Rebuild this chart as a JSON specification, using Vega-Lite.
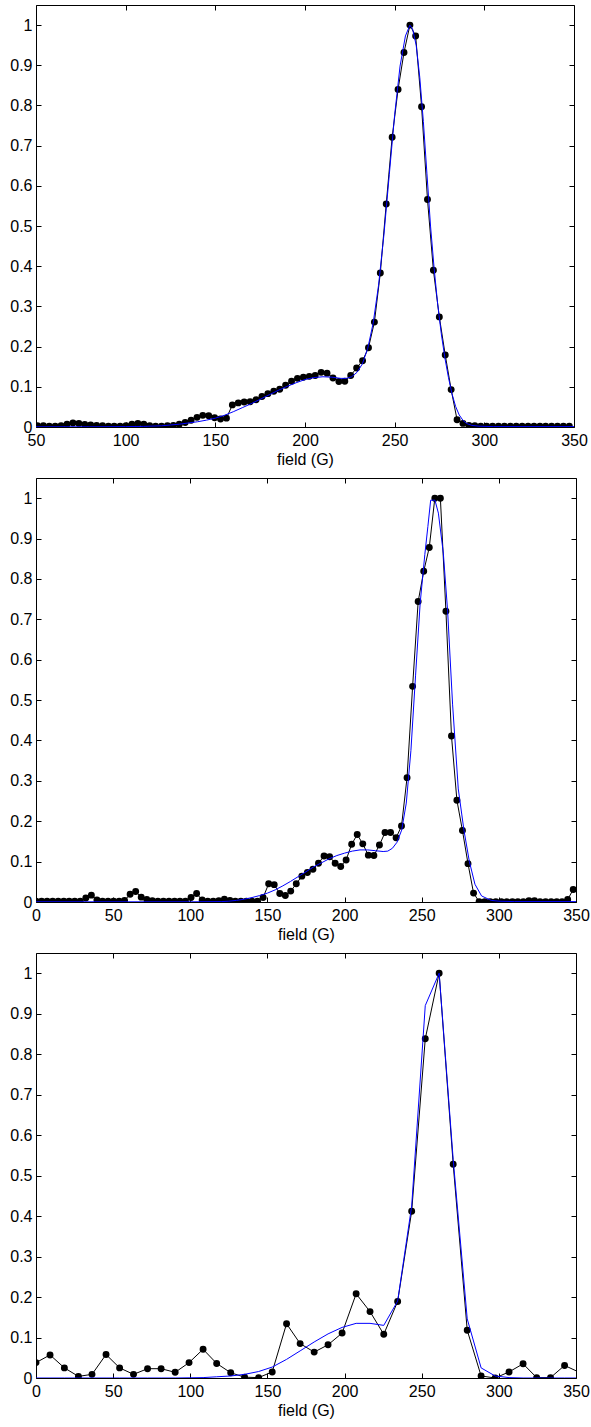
{
  "$schema": "https://vega.github.io/schema/vega-lite/v6.json",
  "background": "white",
  "padding": {"top": 4, "left": 9, "right": 4, "bottom": 3},
  "spacing": 9,
  "config": {
    "font": "Liberation Sans",
    "view": {"stroke": "black", "strokeWidth": 1},
    "axis": {
      "domain": false,
      "grid": false,
      "ticks": true,
      "tickColor": "black",
      "tickSize": -5,
      "tickWidth": 1,
      "minExtent": 0,
      "labelFont": "Liberation Sans",
      "labelFontSize": 16,
      "labelColor": "black",
      "labelFlush": false,
      "labelOverlap": false,
      "titleFont": "Liberation Sans",
      "titleFontSize": 16,
      "titleFontWeight": "normal",
      "titleColor": "black"
    },
    "axisX": {"labelPadding": 10, "titlePadding": 3},
    "axisY": {"labelPadding": 9}
  },
  "datasets": {
    "p1": [
      {"B": 50.8, "norm": 0.003}, {"B": 54.1, "norm": 0.003}, {"B": 57.4, "norm": 0.002}, {"B": 60.7, "norm": 0.002},
      {"B": 64.0, "norm": 0.003}, {"B": 67.3, "norm": 0.007}, {"B": 70.6, "norm": 0.010}, {"B": 73.9, "norm": 0.009},
      {"B": 77.2, "norm": 0.006}, {"B": 80.5, "norm": 0.005}, {"B": 83.8, "norm": 0.004}, {"B": 87.1, "norm": 0.003},
      {"B": 90.4, "norm": 0.002}, {"B": 93.6, "norm": 0.002}, {"B": 96.9, "norm": 0.002}, {"B": 100.2, "norm": 0.003},
      {"B": 103.5, "norm": 0.007}, {"B": 106.8, "norm": 0.009}, {"B": 110.1, "norm": 0.007}, {"B": 113.4, "norm": 0.003},
      {"B": 116.7, "norm": 0.002}, {"B": 120.0, "norm": 0.002}, {"B": 123.3, "norm": 0.003}, {"B": 126.6, "norm": 0.004},
      {"B": 129.9, "norm": 0.007}, {"B": 133.2, "norm": 0.011}, {"B": 136.5, "norm": 0.017}, {"B": 139.8, "norm": 0.024},
      {"B": 143.0, "norm": 0.029}, {"B": 146.3, "norm": 0.028}, {"B": 149.6, "norm": 0.023}, {"B": 152.9, "norm": 0.020},
      {"B": 156.2, "norm": 0.022}, {"B": 159.5, "norm": 0.055}, {"B": 162.8, "norm": 0.060}, {"B": 166.1, "norm": 0.062},
      {"B": 169.4, "norm": 0.063}, {"B": 172.7, "norm": 0.068}, {"B": 176.0, "norm": 0.076}, {"B": 179.3, "norm": 0.083},
      {"B": 182.6, "norm": 0.089}, {"B": 185.9, "norm": 0.094}, {"B": 189.2, "norm": 0.104}, {"B": 192.5, "norm": 0.114},
      {"B": 195.8, "norm": 0.121}, {"B": 199.1, "norm": 0.124}, {"B": 202.4, "norm": 0.126}, {"B": 205.7, "norm": 0.128},
      {"B": 209.0, "norm": 0.136}, {"B": 212.3, "norm": 0.134}, {"B": 215.6, "norm": 0.122}, {"B": 218.9, "norm": 0.113},
      {"B": 222.2, "norm": 0.114}, {"B": 225.5, "norm": 0.128}, {"B": 228.8, "norm": 0.147}, {"B": 232.1, "norm": 0.165},
      {"B": 235.4, "norm": 0.197}, {"B": 238.7, "norm": 0.261}, {"B": 242.0, "norm": 0.383}, {"B": 245.3, "norm": 0.555},
      {"B": 248.6, "norm": 0.721}, {"B": 251.9, "norm": 0.840}, {"B": 255.2, "norm": 0.932}, {"B": 258.5, "norm": 1.0},
      {"B": 261.7, "norm": 0.973}, {"B": 265.0, "norm": 0.797}, {"B": 268.3, "norm": 0.566}, {"B": 271.6, "norm": 0.390},
      {"B": 274.9, "norm": 0.274}, {"B": 278.2, "norm": 0.179}, {"B": 281.5, "norm": 0.093}, {"B": 284.8, "norm": 0.018},
      {"B": 288.1, "norm": 0.009}, {"B": 291.4, "norm": 0.004}, {"B": 294.7, "norm": 0.003}, {"B": 298.0, "norm": 0.002},
      {"B": 301.3, "norm": 0.002}, {"B": 304.6, "norm": 0.002}, {"B": 307.9, "norm": 0.002}, {"B": 311.2, "norm": 0.002},
      {"B": 314.5, "norm": 0.002}, {"B": 317.8, "norm": 0.002}, {"B": 321.1, "norm": 0.002}, {"B": 324.4, "norm": 0.002},
      {"B": 327.7, "norm": 0.002}, {"B": 331.0, "norm": 0.002}, {"B": 334.2, "norm": 0.002}, {"B": 337.5, "norm": 0.002},
      {"B": 340.8, "norm": 0.002}, {"B": 344.1, "norm": 0.002}, {"B": 347.4, "norm": 0.002}
    ],
    "p1fit": [
      {"B": 50, "norm": 0.0005}, {"B": 80, "norm": 0.0005}, {"B": 100, "norm": 0.001}, {"B": 110, "norm": 0.0015},
      {"B": 120, "norm": 0.003}, {"B": 125, "norm": 0.005}, {"B": 130, "norm": 0.007}, {"B": 135, "norm": 0.010},
      {"B": 140, "norm": 0.013}, {"B": 145, "norm": 0.017}, {"B": 150, "norm": 0.022}, {"B": 155, "norm": 0.029},
      {"B": 160, "norm": 0.038}, {"B": 165, "norm": 0.048}, {"B": 170, "norm": 0.058}, {"B": 175, "norm": 0.069},
      {"B": 180, "norm": 0.080}, {"B": 185, "norm": 0.091}, {"B": 190, "norm": 0.101}, {"B": 195, "norm": 0.110},
      {"B": 200, "norm": 0.118}, {"B": 205, "norm": 0.123}, {"B": 210, "norm": 0.125}, {"B": 215, "norm": 0.124},
      {"B": 220, "norm": 0.121}, {"B": 223, "norm": 0.121}, {"B": 226, "norm": 0.125}, {"B": 229, "norm": 0.136},
      {"B": 232, "norm": 0.157}, {"B": 235, "norm": 0.196}, {"B": 238, "norm": 0.258}, {"B": 241, "norm": 0.352},
      {"B": 244, "norm": 0.478}, {"B": 247, "norm": 0.628}, {"B": 250, "norm": 0.777}, {"B": 253, "norm": 0.898},
      {"B": 256, "norm": 0.973}, {"B": 258.5, "norm": 1.0}, {"B": 260, "norm": 0.99}, {"B": 262, "norm": 0.95},
      {"B": 264, "norm": 0.87}, {"B": 266, "norm": 0.76}, {"B": 268, "norm": 0.63}, {"B": 270, "norm": 0.50},
      {"B": 272, "norm": 0.395}, {"B": 274, "norm": 0.305}, {"B": 276, "norm": 0.232}, {"B": 278, "norm": 0.172},
      {"B": 280, "norm": 0.123}, {"B": 282, "norm": 0.082}, {"B": 284, "norm": 0.051}, {"B": 286, "norm": 0.030},
      {"B": 288, "norm": 0.017}, {"B": 290, "norm": 0.009}, {"B": 293, "norm": 0.004}, {"B": 297, "norm": 0.002},
      {"B": 305, "norm": 0.001}, {"B": 350, "norm": 0.001}
    ],
    "p2": [
      {"B": 0.0, "norm": 0.002}, {"B": 3.6, "norm": 0.002}, {"B": 7.2, "norm": 0.002}, {"B": 10.8, "norm": 0.002},
      {"B": 14.4, "norm": 0.002}, {"B": 18.0, "norm": 0.002}, {"B": 21.5, "norm": 0.002}, {"B": 25.1, "norm": 0.002},
      {"B": 28.7, "norm": 0.002}, {"B": 32.3, "norm": 0.010}, {"B": 35.9, "norm": 0.017}, {"B": 39.5, "norm": 0.005},
      {"B": 43.1, "norm": 0.002}, {"B": 46.7, "norm": 0.002}, {"B": 50.3, "norm": 0.002}, {"B": 53.9, "norm": 0.002},
      {"B": 57.4, "norm": 0.004}, {"B": 61.0, "norm": 0.019}, {"B": 64.6, "norm": 0.026}, {"B": 68.2, "norm": 0.012},
      {"B": 71.8, "norm": 0.006}, {"B": 75.4, "norm": 0.003}, {"B": 79.0, "norm": 0.002}, {"B": 82.6, "norm": 0.002},
      {"B": 86.2, "norm": 0.002}, {"B": 89.8, "norm": 0.002}, {"B": 93.3, "norm": 0.002}, {"B": 96.9, "norm": 0.002},
      {"B": 100.5, "norm": 0.011}, {"B": 104.1, "norm": 0.021}, {"B": 107.7, "norm": 0.005}, {"B": 111.3, "norm": 0.002},
      {"B": 114.9, "norm": 0.002}, {"B": 118.5, "norm": 0.003}, {"B": 122.1, "norm": 0.007}, {"B": 125.7, "norm": 0.004},
      {"B": 129.2, "norm": 0.002}, {"B": 132.8, "norm": 0.002}, {"B": 136.4, "norm": 0.002}, {"B": 140.0, "norm": 0.002},
      {"B": 143.6, "norm": 0.002}, {"B": 147.2, "norm": 0.011}, {"B": 150.8, "norm": 0.045}, {"B": 154.4, "norm": 0.043},
      {"B": 158.0, "norm": 0.021}, {"B": 161.6, "norm": 0.016}, {"B": 165.1, "norm": 0.027}, {"B": 168.7, "norm": 0.045},
      {"B": 172.3, "norm": 0.064}, {"B": 175.9, "norm": 0.073}, {"B": 179.5, "norm": 0.081}, {"B": 183.1, "norm": 0.096},
      {"B": 186.7, "norm": 0.114}, {"B": 190.3, "norm": 0.112}, {"B": 193.9, "norm": 0.096}, {"B": 197.5, "norm": 0.088},
      {"B": 201.0, "norm": 0.104}, {"B": 204.6, "norm": 0.143}, {"B": 208.2, "norm": 0.167}, {"B": 211.8, "norm": 0.144},
      {"B": 215.4, "norm": 0.116}, {"B": 219.0, "norm": 0.115}, {"B": 222.6, "norm": 0.141}, {"B": 226.2, "norm": 0.172},
      {"B": 229.8, "norm": 0.172}, {"B": 233.4, "norm": 0.159}, {"B": 236.9, "norm": 0.188}, {"B": 240.5, "norm": 0.308},
      {"B": 244.1, "norm": 0.534}, {"B": 247.7, "norm": 0.744}, {"B": 251.3, "norm": 0.819}, {"B": 254.9, "norm": 0.878},
      {"B": 258.5, "norm": 1.0}, {"B": 262.1, "norm": 1.0}, {"B": 265.7, "norm": 0.720}, {"B": 269.3, "norm": 0.411},
      {"B": 272.8, "norm": 0.252}, {"B": 276.4, "norm": 0.177}, {"B": 280.0, "norm": 0.095}, {"B": 283.6, "norm": 0.022},
      {"B": 287.2, "norm": 0.001}, {"B": 290.8, "norm": 0.001}, {"B": 294.4, "norm": 0.001}, {"B": 298.0, "norm": 0.001},
      {"B": 301.6, "norm": 0.001}, {"B": 305.2, "norm": 0.001}, {"B": 308.8, "norm": 0.001}, {"B": 312.3, "norm": 0.001},
      {"B": 315.9, "norm": 0.001}, {"B": 319.5, "norm": 0.003}, {"B": 323.1, "norm": 0.003}, {"B": 326.7, "norm": 0.001},
      {"B": 330.3, "norm": 0.001}, {"B": 333.9, "norm": 0.001}, {"B": 337.5, "norm": 0.001}, {"B": 341.0, "norm": 0.001},
      {"B": 344.6, "norm": 0.006}, {"B": 348.2, "norm": 0.031}
    ],
    "p2fit": [
      {"B": 0, "norm": 0.0005}, {"B": 100, "norm": 0.0005}, {"B": 120, "norm": 0.001}, {"B": 125, "norm": 0.002},
      {"B": 130, "norm": 0.004}, {"B": 135, "norm": 0.007}, {"B": 140, "norm": 0.011}, {"B": 145, "norm": 0.016},
      {"B": 150, "norm": 0.022}, {"B": 155, "norm": 0.030}, {"B": 160, "norm": 0.040}, {"B": 165, "norm": 0.051},
      {"B": 170, "norm": 0.063}, {"B": 175, "norm": 0.075}, {"B": 180, "norm": 0.087}, {"B": 185, "norm": 0.097},
      {"B": 190, "norm": 0.107}, {"B": 195, "norm": 0.115}, {"B": 200, "norm": 0.121}, {"B": 205, "norm": 0.126},
      {"B": 210, "norm": 0.129}, {"B": 215, "norm": 0.129}, {"B": 220, "norm": 0.127}, {"B": 225, "norm": 0.125},
      {"B": 228, "norm": 0.126}, {"B": 231, "norm": 0.133}, {"B": 234, "norm": 0.148}, {"B": 237, "norm": 0.178},
      {"B": 240, "norm": 0.245}, {"B": 243, "norm": 0.375}, {"B": 246, "norm": 0.56}, {"B": 249, "norm": 0.74},
      {"B": 252, "norm": 0.86}, {"B": 254, "norm": 0.93}, {"B": 255.8, "norm": 0.995}, {"B": 258.6, "norm": 0.995},
      {"B": 260.8, "norm": 0.963}, {"B": 264, "norm": 0.864}, {"B": 266.8, "norm": 0.72}, {"B": 270, "norm": 0.49},
      {"B": 273.7, "norm": 0.28}, {"B": 277.4, "norm": 0.177}, {"B": 280.9, "norm": 0.10}, {"B": 284.5, "norm": 0.044},
      {"B": 288.8, "norm": 0.015}, {"B": 295, "norm": 0.004}, {"B": 300, "norm": 0.002}, {"B": 310, "norm": 0.001},
      {"B": 350, "norm": 0.001}
    ],
    "p3": [
      {"B": 0.0, "norm": 0.038}, {"B": 9.1, "norm": 0.057}, {"B": 18.4, "norm": 0.025}, {"B": 27.5, "norm": 0.004},
      {"B": 36.3, "norm": 0.009}, {"B": 45.4, "norm": 0.058}, {"B": 54.2, "norm": 0.025}, {"B": 63.2, "norm": 0.009},
      {"B": 72.3, "norm": 0.023}, {"B": 81.1, "norm": 0.023}, {"B": 90.2, "norm": 0.014}, {"B": 99.2, "norm": 0.038},
      {"B": 108.3, "norm": 0.071}, {"B": 117.1, "norm": 0.036}, {"B": 126.2, "norm": 0.013}, {"B": 135.2, "norm": 0.002},
      {"B": 144.3, "norm": 0.001}, {"B": 153.1, "norm": 0.015}, {"B": 162.4, "norm": 0.134}, {"B": 171.2, "norm": 0.085},
      {"B": 180.3, "norm": 0.064}, {"B": 189.3, "norm": 0.082}, {"B": 198.4, "norm": 0.111}, {"B": 207.5, "norm": 0.208},
      {"B": 216.5, "norm": 0.164}, {"B": 225.4, "norm": 0.108}, {"B": 234.4, "norm": 0.189}, {"B": 243.5, "norm": 0.412},
      {"B": 252.3, "norm": 0.838}, {"B": 261.3, "norm": 1.0}, {"B": 270.4, "norm": 0.528}, {"B": 279.5, "norm": 0.118},
      {"B": 288.5, "norm": 0.005}, {"B": 297.6, "norm": 0.0}, {"B": 306.6, "norm": 0.015}, {"B": 315.7, "norm": 0.035},
      {"B": 324.5, "norm": 0.001}, {"B": 333.5, "norm": 0.001}, {"B": 342.6, "norm": 0.031}, {"B": 351.6, "norm": 0.015}
    ],
    "p3fit": [
      {"B": 0.0, "norm": 0.0}, {"B": 9.1, "norm": 0.0}, {"B": 18.4, "norm": 0.0}, {"B": 27.5, "norm": 0.0},
      {"B": 36.3, "norm": 0.0}, {"B": 45.4, "norm": 0.0}, {"B": 54.2, "norm": 0.0}, {"B": 63.2, "norm": 0.0},
      {"B": 72.3, "norm": 0.0}, {"B": 81.1, "norm": 0.0}, {"B": 90.2, "norm": 0.0}, {"B": 99.2, "norm": 0.0005},
      {"B": 108.3, "norm": 0.001}, {"B": 117.1, "norm": 0.003}, {"B": 126.2, "norm": 0.005}, {"B": 135.2, "norm": 0.009},
      {"B": 144.3, "norm": 0.016}, {"B": 153.1, "norm": 0.027}, {"B": 162.4, "norm": 0.046}, {"B": 171.2, "norm": 0.067},
      {"B": 180.3, "norm": 0.089}, {"B": 189.3, "norm": 0.109}, {"B": 198.4, "norm": 0.125}, {"B": 207.5, "norm": 0.135},
      {"B": 216.5, "norm": 0.135}, {"B": 225.4, "norm": 0.130}, {"B": 234.4, "norm": 0.190}, {"B": 243.5, "norm": 0.425},
      {"B": 252.3, "norm": 0.920}, {"B": 261.3, "norm": 1.0}, {"B": 270.4, "norm": 0.54}, {"B": 279.5, "norm": 0.146},
      {"B": 288.5, "norm": 0.025}, {"B": 297.6, "norm": 0.005}, {"B": 306.6, "norm": 0.001}, {"B": 315.7, "norm": 0.0},
      {"B": 324.5, "norm": 0.0}, {"B": 333.5, "norm": 0.0}, {"B": 342.6, "norm": 0.0}, {"B": 351.6, "norm": 0.0}
    ]
  },
  "vconcat": [
    {
      "width": 538,
      "height": 422,
      "resolve": {"axis": {"x": "independent", "y": "independent"}},
      "layer": [
        {
          "data": {"name": "p1"},
          "mark": {"type": "line", "color": "black", "strokeWidth": 1, "clip": true},
          "encoding": {
            "x": {"field": "B", "type": "quantitative", "scale": {"domain": [50, 350], "nice": false, "zero": false},
                  "axis": {"orient": "bottom", "values": [50, 100, 150, 200, 250, 300, 350], "title": "field (G)"}},
            "y": {"field": "norm", "type": "quantitative", "scale": {"domain": [0, 1.05], "nice": false},
                  "axis": {"orient": "left", "values": [0, 0.1, 0.2, 0.3, 0.4, 0.5, 0.6, 0.7, 0.8, 0.9, 1], "format": "~g", "title": null}}
          }
        },
        {
          "data": {"name": "p1"},
          "mark": {"type": "circle", "color": "black", "opacity": 1, "size": 48, "clip": true},
          "encoding": {
            "x": {"field": "B", "type": "quantitative", "axis": null},
            "y": {"field": "norm", "type": "quantitative", "axis": null}
          }
        },
        {
          "data": {"name": "p1fit"},
          "mark": {"type": "line", "color": "#0000ff", "strokeWidth": 1, "clip": true},
          "encoding": {
            "x": {"field": "B", "type": "quantitative",
                  "axis": {"orient": "top", "values": [50, 100, 150, 200, 250, 300, 350], "labels": false, "title": null}},
            "y": {"field": "norm", "type": "quantitative",
                  "axis": {"orient": "right", "values": [0, 0.1, 0.2, 0.3, 0.4, 0.5, 0.6, 0.7, 0.8, 0.9, 1], "labels": false, "title": null}}
          }
        }
      ]
    },
    {
      "width": 540,
      "height": 424,
      "resolve": {"axis": {"x": "independent", "y": "independent"}},
      "layer": [
        {
          "data": {"name": "p2"},
          "mark": {"type": "line", "color": "black", "strokeWidth": 1, "clip": true},
          "encoding": {
            "x": {"field": "B", "type": "quantitative", "scale": {"domain": [0, 350], "nice": false, "zero": false},
                  "axis": {"orient": "bottom", "values": [0, 50, 100, 150, 200, 250, 300, 350], "title": "field (G)"}},
            "y": {"field": "norm", "type": "quantitative", "scale": {"domain": [0, 1.05], "nice": false},
                  "axis": {"orient": "left", "values": [0, 0.1, 0.2, 0.3, 0.4, 0.5, 0.6, 0.7, 0.8, 0.9, 1], "format": "~g", "title": null}}
          }
        },
        {
          "data": {"name": "p2"},
          "mark": {"type": "circle", "color": "black", "opacity": 1, "size": 48, "clip": true},
          "encoding": {
            "x": {"field": "B", "type": "quantitative", "axis": null},
            "y": {"field": "norm", "type": "quantitative", "axis": null}
          }
        },
        {
          "data": {"name": "p2fit"},
          "mark": {"type": "line", "color": "#0000ff", "strokeWidth": 1, "clip": true},
          "encoding": {
            "x": {"field": "B", "type": "quantitative",
                  "axis": {"orient": "top", "values": [0, 50, 100, 150, 200, 250, 300, 350], "labels": false, "title": null}},
            "y": {"field": "norm", "type": "quantitative",
                  "axis": {"orient": "right", "values": [0, 0.1, 0.2, 0.3, 0.4, 0.5, 0.6, 0.7, 0.8, 0.9, 1], "labels": false, "title": null}}
          }
        }
      ]
    },
    {
      "width": 540,
      "height": 425,
      "resolve": {"axis": {"x": "independent", "y": "independent"}},
      "layer": [
        {
          "data": {"name": "p3"},
          "mark": {"type": "line", "color": "black", "strokeWidth": 1, "clip": true},
          "encoding": {
            "x": {"field": "B", "type": "quantitative", "scale": {"domain": [0, 350], "nice": false, "zero": false},
                  "axis": {"orient": "bottom", "values": [0, 50, 100, 150, 200, 250, 300, 350], "title": "field (G)"}},
            "y": {"field": "norm", "type": "quantitative", "scale": {"domain": [0, 1.05], "nice": false},
                  "axis": {"orient": "left", "values": [0, 0.1, 0.2, 0.3, 0.4, 0.5, 0.6, 0.7, 0.8, 0.9, 1], "format": "~g", "title": null}}
          }
        },
        {
          "data": {"name": "p3"},
          "transform": [{"filter": "datum.B <= 350"}],
          "mark": {"type": "circle", "color": "black", "opacity": 1, "size": 48, "clip": true},
          "encoding": {
            "x": {"field": "B", "type": "quantitative", "axis": null},
            "y": {"field": "norm", "type": "quantitative", "axis": null}
          }
        },
        {
          "data": {"name": "p3fit"},
          "mark": {"type": "line", "color": "#0000ff", "strokeWidth": 1, "clip": true},
          "encoding": {
            "x": {"field": "B", "type": "quantitative",
                  "axis": {"orient": "top", "values": [0, 50, 100, 150, 200, 250, 300, 350], "labels": false, "title": null}},
            "y": {"field": "norm", "type": "quantitative",
                  "axis": {"orient": "right", "values": [0, 0.1, 0.2, 0.3, 0.4, 0.5, 0.6, 0.7, 0.8, 0.9, 1], "labels": false, "title": null}}
          }
        }
      ]
    }
  ]
}
